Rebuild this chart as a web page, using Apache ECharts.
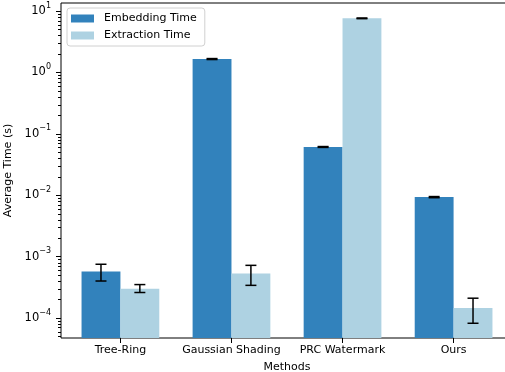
<!DOCTYPE html>
<html>
<head>
<meta charset="utf-8">
<script src="https://cdn.jsdelivr.net/npm/echarts@6/dist/echarts.min.js"></script>
<style>
  html, body { margin: 0; padding: 0; background: #fff; }
  #chart { width: 505px; height: 372px; }
</style>
</head>
<body>
<div id="chart"></div>
<script>
  // data
  const categories = ['Tree-Ring', 'Gaussian Shading', 'PRC Watermark', 'Ours']
  const embedTime = [5.7e-4, 1.65, 0.061, 0.0093]
  const embedLow = [4.0e-4, 1.62, 0.0600, 0.0091]
  const embedHigh = [7.5e-4, 1.68, 0.0620, 0.0095]
  const extractTime = [3.0e-4, 5.3e-4, 7.6, 1.46e-4]
  const extractLow = [2.6e-4, 3.4e-4, 7.5, 8.2e-5]
  const extractHigh = [3.5e-4, 7.2e-4, 7.7, 2.1e-4]
  const yTicks = [1e-4, 1e-3, 1e-2, 1e-1, 1, 10]

  const BAR = 0.35
  const FONT = 'DejaVu Sans'
  const X_MIN = -0.535
  const X_MAX = 3.535
  const Y_MIN = 4.72e-5
  const Y_MAX = 13.5

  // minor log ticks 2..9 x 10^k
  let minorTicks = []
  for (let e = -5; e <= 1; e++) {
    for (let m = 2; m <= 9; m++) {
      let v = m * Math.pow(10, e)
      if (v > Y_MIN && v < Y_MAX) minorTicks.push(v)
    }
  }

  function supLabel(v) {
    let e = Math.round(Math.log10(v))
    let s = e < 0 ? '\u2212' + (-e) : String(e)
    return '{b|10}{s|' + s + '}'
  }

  function barItem(shift, color) {
    return function (params, api) {
      let i = api.value(0)
      let left = api.coord([i + shift, api.value(1)])
      let right = api.coord([i + shift + BAR, api.value(1)])
      let cs = params.coordSys
      return {
        type: 'rect',
        shape: { x: left[0], y: left[1], width: right[0] - left[0], height: cs.y + cs.height - left[1] },
        style: { fill: color }
      }
    }
  }

  function errItem(shift) {
    return function (params, api) {
      let x = api.value(0) + shift
      let lo = api.coord([x, api.value(1)])
      let hi = api.coord([x, api.value(2)])
      let st = { stroke: '#000', lineWidth: 1.5 }
      return {
        type: 'group',
        children: [
          { type: 'line', shape: { x1: lo[0], y1: lo[1], x2: hi[0], y2: hi[1] }, style: st },
          { type: 'line', shape: { x1: lo[0] - 5.5, y1: lo[1], x2: lo[0] + 5.5, y2: lo[1] }, style: st },
          { type: 'line', shape: { x1: hi[0] - 5.5, y1: hi[1], x2: hi[0] + 5.5, y2: hi[1] }, style: st }
        ]
      }
    }
  }

  // small log ticks left of the y spine
  function minorTickItem(params, api) {
    let p = api.coord([api.value(0), api.value(1)])
    let y = Math.round(p[1]) + 0.5
    return {
      type: 'line',
      shape: { x1: p[0] - 3, y1: y, x2: p[0], y2: y },
      style: { stroke: '#000', lineWidth: 1 }
    }
  }

  function getOption() {
    const dark = '#3282bc'
    const light = '#aed2e2'
    let option = {
      animation: false,
      textStyle: { fontFamily: FONT },
      grid: {
        left: 61,
        top: 3,
        width: 452,
        bottom: 34,
        outerBoundsMode: 'none',
        containLabel: false,
        show: true,
        borderColor: '#000',
        borderWidth: 1
      },
      legend: {
        orient: 'vertical',
        left: 67,
        top: 8,
        icon: 'rect',
        itemWidth: 23,
        itemHeight: 8,
        itemGap: 4,
        padding: [4, 8, 4, 4],
        backgroundColor: '#fff',
        borderColor: '#d0d0d0',
        borderWidth: 1,
        borderRadius: 3,
        textStyle: { fontFamily: FONT, fontSize: 11, color: '#000', lineHeight: 13, padding: [0, 0, 0, 5] },
        data: ['Embedding Time', 'Extraction Time']
      },
      xAxis: {
        type: 'value',
        min: X_MIN,
        max: X_MAX,
        name: 'Methods',
        nameLocation: 'middle',
        nameGap: 24,
        nameTextStyle: { fontFamily: FONT, fontSize: 11, color: '#000' },
        axisLine: { show: false, onZero: false },
        splitLine: { show: false },
        axisTick: { show: true, customValues: [0, 1, 2, 3], length: 5, lineStyle: { color: '#000', width: 1 } },
        axisLabel: {
          customValues: [0, 1, 2, 3],
          margin: 7,
          fontFamily: FONT,
          fontSize: 11,
          color: '#000',
          formatter: v => categories[Math.round(v)]
        }
      },
      yAxis: {
        type: 'log',
        min: Y_MIN,
        max: Y_MAX,
        position: 'left',
        name: 'Average Time (s)',
        nameLocation: 'middle',
        nameGap: 40,
        nameTextStyle: { fontFamily: FONT, fontSize: 11, color: '#000' },
        axisLine: { show: false, onZero: false },
        splitLine: { show: false },
        axisTick: { show: true, customValues: yTicks, length: 5, lineStyle: { color: '#000', width: 1 } },
        axisLabel: {
          customValues: yTicks,
          margin: 10,
          formatter: supLabel,
          rich: {
            b: { fontFamily: FONT, fontSize: 11.5, color: '#000', lineHeight: 12 },
            s: { fontFamily: FONT, fontSize: 8, color: '#000', lineHeight: 10, padding: [0, 0, 11, 0] }
          }
        }
      },
      series: [{
        name: 'Embedding Time',
        type: 'custom',
        itemStyle: { color: dark },
        renderItem: barItem(-BAR, dark),
        data: embedTime.map((v, i) => [i, v]),
        z: 2
      }, {
        name: 'Extraction Time',
        type: 'custom',
        itemStyle: { color: light },
        renderItem: barItem(0, light),
        data: extractTime.map((v, i) => [i, v]),
        z: 2
      }, {
        type: 'custom',
        renderItem: errItem(-BAR / 2),
        data: embedLow.map((v, i) => [i, v, embedHigh[i]]),
        z: 3
      }, {
        type: 'custom',
        renderItem: errItem(BAR / 2),
        data: extractLow.map((v, i) => [i, v, extractHigh[i]]),
        z: 3
      }, {
        type: 'custom',
        clip: false,
        renderItem: minorTickItem,
        data: minorTicks.map(v => [X_MIN, v]),
        z: 3
      }]
    }
    return option
  }

  let chart = echarts.init(document.getElementById('chart'))
  chart.setOption(getOption(), true)
</script>
</body>
</html>
